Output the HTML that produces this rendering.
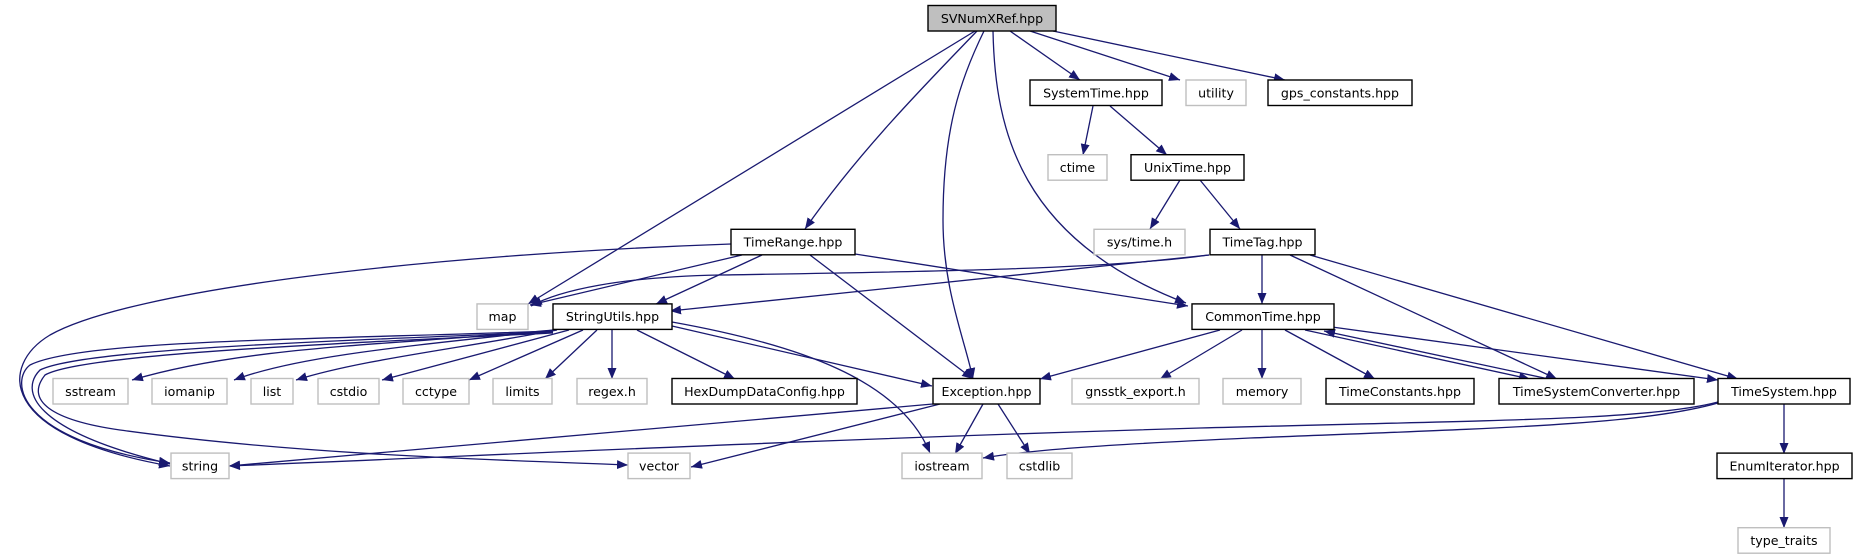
<!DOCTYPE html>
<html><head><meta charset="utf-8"><style>
html,body{margin:0;padding:0;background:#fff;}
svg{display:block;}
text{font-family:"DejaVu Sans","Liberation Sans",sans-serif;font-size:12.6px;fill:#000;text-anchor:middle;}
.n{fill:#fff;stroke:#000;stroke-width:1.4;}
.g{fill:#fff;stroke:#bfbfbf;stroke-width:1.4;}
.r{fill:#bfbfbf;stroke:#000;stroke-width:1.4;}
.e{fill:none;stroke:#191970;stroke-width:1.3;marker-end:url(#a);}
</style></head><body>
<svg width="1857" height="560" viewBox="0 0 1857 560" xmlns="http://www.w3.org/2000/svg">
<defs><marker id="a" markerUnits="userSpaceOnUse" markerWidth="12" markerHeight="10" refX="11" refY="4.5" orient="auto"><path d="M0,0 L11,4.5 L0,9 Z" fill="#191970"/></marker></defs>
<!-- edges -->
<path class="e" d="M975,31 L528,304"/>
<path class="e" d="M977,31 C930,80 860,150 805,229"/>
<path class="e" d="M984,31 C960,80 943,130 943,220 C943,290 965,340 973,379"/>
<path class="e" d="M993,31 C995,130 1020,240 1186,303"/>
<path class="e" d="M1010,31 L1080,80"/>
<path class="e" d="M1030,31 L1180,80"/>
<path class="e" d="M1053,31 L1285,80"/>
<path class="e" d="M1093,106 L1083,155"/>
<path class="e" d="M1110,106 L1167,155"/>
<path class="e" d="M1180,180 L1150,229"/>
<path class="e" d="M1200,180 L1240,229"/>
<path class="e" d="M731,244 C420,255 130,290 50,335 C0,365 -5,435 170,466"/>
<path class="e" d="M742,255 L530,305"/>
<path class="e" d="M762,255 L656,304"/>
<path class="e" d="M810,255 L973,379"/>
<path class="e" d="M855,254 L1188,306"/>
<path class="e" d="M1209,255 C1100,270 900,272 720,275 C620,277 560,290 531,306"/>
<path class="e" d="M1209,255 L670,311"/>
<path class="e" d="M1262,255 L1262,304"/>
<path class="e" d="M1290,255 L1557,379"/>
<path class="e" d="M1310,255 L1738,379"/>
<path class="e" d="M553,330 C400,345 250,345 132,380"/>
<path class="e" d="M555,330 C420,345 300,355 234,380"/>
<path class="e" d="M557,330 C450,350 360,360 296,380"/>
<path class="e" d="M569,330 L382,380"/>
<path class="e" d="M583,330 L469,380"/>
<path class="e" d="M597,330 L545,379"/>
<path class="e" d="M612,330 L612,379"/>
<path class="e" d="M637,330 L735,379"/>
<path class="e" d="M672,326 L932,386"/>
<path class="e" d="M672,322 C800,345 900,380 930,453"/>
<path class="e" d="M553,331 C300,340 80,340 30,365 C10,380 15,440 170,463"/>
<path class="e" d="M553,332 C300,342 80,350 40,370 C20,390 30,430 170,464"/>
<path class="e" d="M553,333 C300,345 80,355 45,375 C25,400 50,420 120,430 C300,455 500,460 628,465"/>
<path class="e" d="M933,404 L229,466"/>
<path class="e" d="M940,404 L691,467"/>
<path class="e" d="M983,404 L955,454"/>
<path class="e" d="M998,404 L1030,454"/>
<path class="e" d="M1220,330 L1040,379"/>
<path class="e" d="M1242,330 L1160,379"/>
<path class="e" d="M1262,330 L1262,379"/>
<path class="e" d="M1285,330 L1375,379"/>
<path class="e" d="M1305,330 L1530,379"/>
<path class="e" d="M1549,379 L1324,331"/>
<path class="e" d="M1332,327 L1718,380"/>
<path class="e" d="M1718,402 C1650,420 1500,420 1200,428 C800,440 500,455 229,466"/>
<path class="e" d="M1718,403 C1640,425 1500,428 1250,438 C1100,445 1030,450 983,458"/>
<path class="e" d="M1784,404 L1784,454"/>
<path class="e" d="M1784,479 L1784,528"/>
<!-- nodes -->
<rect class="r" x="928" y="5.5" width="128" height="25.5"/><text x="992" y="22.8">SVNumXRef.hpp</text>
<rect class="n" x="1030" y="80" width="132" height="25.5"/><text x="1096" y="97.3">SystemTime.hpp</text>
<rect class="g" x="1186" y="80" width="60" height="25.5"/><text x="1216" y="97.3">utility</text>
<rect class="n" x="1268" y="80" width="144" height="25.5"/><text x="1340" y="97.3">gps_constants.hpp</text>
<rect class="g" x="1048" y="154.7" width="59" height="25.5"/><text x="1077.5" y="172">ctime</text>
<rect class="n" x="1131" y="154.7" width="113" height="25.5"/><text x="1187.5" y="172">UnixTime.hpp</text>
<rect class="n" x="731" y="229.3" width="124" height="25.5"/><text x="793" y="246.6">TimeRange.hpp</text>
<rect class="g" x="1094" y="229.3" width="91" height="25.5"/><text x="1139.5" y="246.6">sys/time.h</text>
<rect class="n" x="1210" y="229.3" width="105" height="25.5"/><text x="1262.5" y="246.6">TimeTag.hpp</text>
<rect class="g" x="477" y="303.9" width="51" height="25.5"/><text x="502.5" y="321.2">map</text>
<rect class="n" x="553" y="303.9" width="119" height="25.5"/><text x="612.5" y="321.2">StringUtils.hpp</text>
<rect class="n" x="1192" y="303.9" width="142" height="25.5"/><text x="1263" y="321.2">CommonTime.hpp</text>
<rect class="g" x="53" y="378.5" width="75" height="25.5"/><text x="90.5" y="395.8">sstream</text>
<rect class="g" x="152" y="378.5" width="75" height="25.5"/><text x="189.5" y="395.8">iomanip</text>
<rect class="g" x="251" y="378.5" width="42" height="25.5"/><text x="272" y="395.8">list</text>
<rect class="g" x="318" y="378.5" width="61" height="25.5"/><text x="348.5" y="395.8">cstdio</text>
<rect class="g" x="403" y="378.5" width="66" height="25.5"/><text x="436" y="395.8">cctype</text>
<rect class="g" x="493" y="378.5" width="59" height="25.5"/><text x="522.5" y="395.8">limits</text>
<rect class="g" x="577" y="378.5" width="70" height="25.5"/><text x="612" y="395.8">regex.h</text>
<rect class="n" x="672" y="378.5" width="185" height="25.5"/><text x="764.5" y="395.8">HexDumpDataConfig.hpp</text>
<rect class="n" x="933" y="378.5" width="107" height="25.5"/><text x="986.5" y="395.8">Exception.hpp</text>
<rect class="g" x="1072" y="378.5" width="127" height="25.5"/><text x="1135.5" y="395.8">gnsstk_export.h</text>
<rect class="g" x="1223" y="378.5" width="78" height="25.5"/><text x="1262" y="395.8">memory</text>
<rect class="n" x="1326" y="378.5" width="148" height="25.5"/><text x="1400" y="395.8">TimeConstants.hpp</text>
<rect class="n" x="1499" y="378.5" width="195" height="25.5"/><text x="1596.5" y="395.8">TimeSystemConverter.hpp</text>
<rect class="n" x="1718" y="378.5" width="132" height="25.5"/><text x="1784" y="395.8">TimeSystem.hpp</text>
<rect class="g" x="171" y="453.1" width="58" height="25.5"/><text x="200" y="470.4">string</text>
<rect class="g" x="628" y="453.1" width="62" height="25.5"/><text x="659" y="470.4">vector</text>
<rect class="g" x="902" y="453.1" width="80" height="25.5"/><text x="942" y="470.4">iostream</text>
<rect class="g" x="1007" y="453.1" width="65" height="25.5"/><text x="1039.5" y="470.4">cstdlib</text>
<rect class="n" x="1717" y="453.1" width="135" height="25.5"/><text x="1784.5" y="470.4">EnumIterator.hpp</text>
<rect class="g" x="1738" y="527.7" width="92" height="25.5"/><text x="1784" y="545">type_traits</text>
</svg>
</body></html>
